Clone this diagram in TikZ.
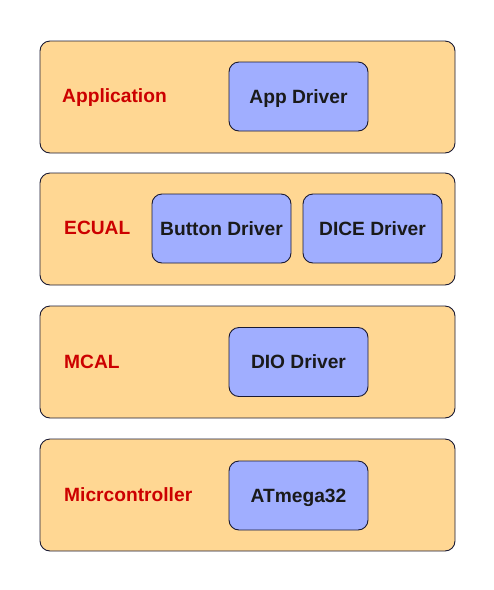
\documentclass[tikz,border=0pt]{standalone}
\usepackage{fontspec}
\setmainfont{Liberation Sans}
\definecolor{layerfill}{HTML}{FFD793}
\definecolor{boxfill}{HTML}{A0AEFF}
\definecolor{edge}{HTML}{1A1A33}
\definecolor{lbl}{HTML}{CC0000}
\definecolor{txt}{HTML}{1A1A1A}
\begin{document}
\begin{tikzpicture}[x=1pt,y=-1pt,
  layer/.style={draw=edge,fill=layerfill,rounded corners=10pt,line width=0.9pt},
  drv/.style={draw=edge,fill=boxfill,rounded corners=10pt,line width=0.9pt,minimum width=139pt,minimum height=69pt,inner sep=0pt,text height=13.8pt,text depth=0pt,font=\fontsize{19.2}{22}\selectfont\bfseries,text=txt},
  lab/.style={anchor=west,inner sep=0pt,text height=13.8pt,text depth=0pt,font=\fontsize{19.2}{22}\selectfont\bfseries,text=lbl}]
\useasboundingbox (0,0) rectangle (494,590);
\draw[layer] (40,41) rectangle (455,153);
\draw[layer] (40,173) rectangle (455,285);
\draw[layer] (40,306) rectangle (455,418);
\draw[layer] (40,439) rectangle (455,551);
\node[lab] (l1) at (62,96) {Application};
\node[lab] (l2) at (64,228) {ECUAL};
\node[lab] (l3) at (64,362) {MCAL};
\node[lab] (l4) at (64,495) {Micrcontroller};
\node[drv] (app) at (298.5,96.5) {App Driver};
\node[drv] (btn) at (221.5,228.5) {Button Driver};
\node[drv] (dice) at (372.5,228.5) {DICE Driver};
\node[drv] (dio) at (298.5,362) {DIO Driver};
\node[drv] (atm) at (298.5,495.5) {ATmega32};
\end{tikzpicture}
\end{document}
